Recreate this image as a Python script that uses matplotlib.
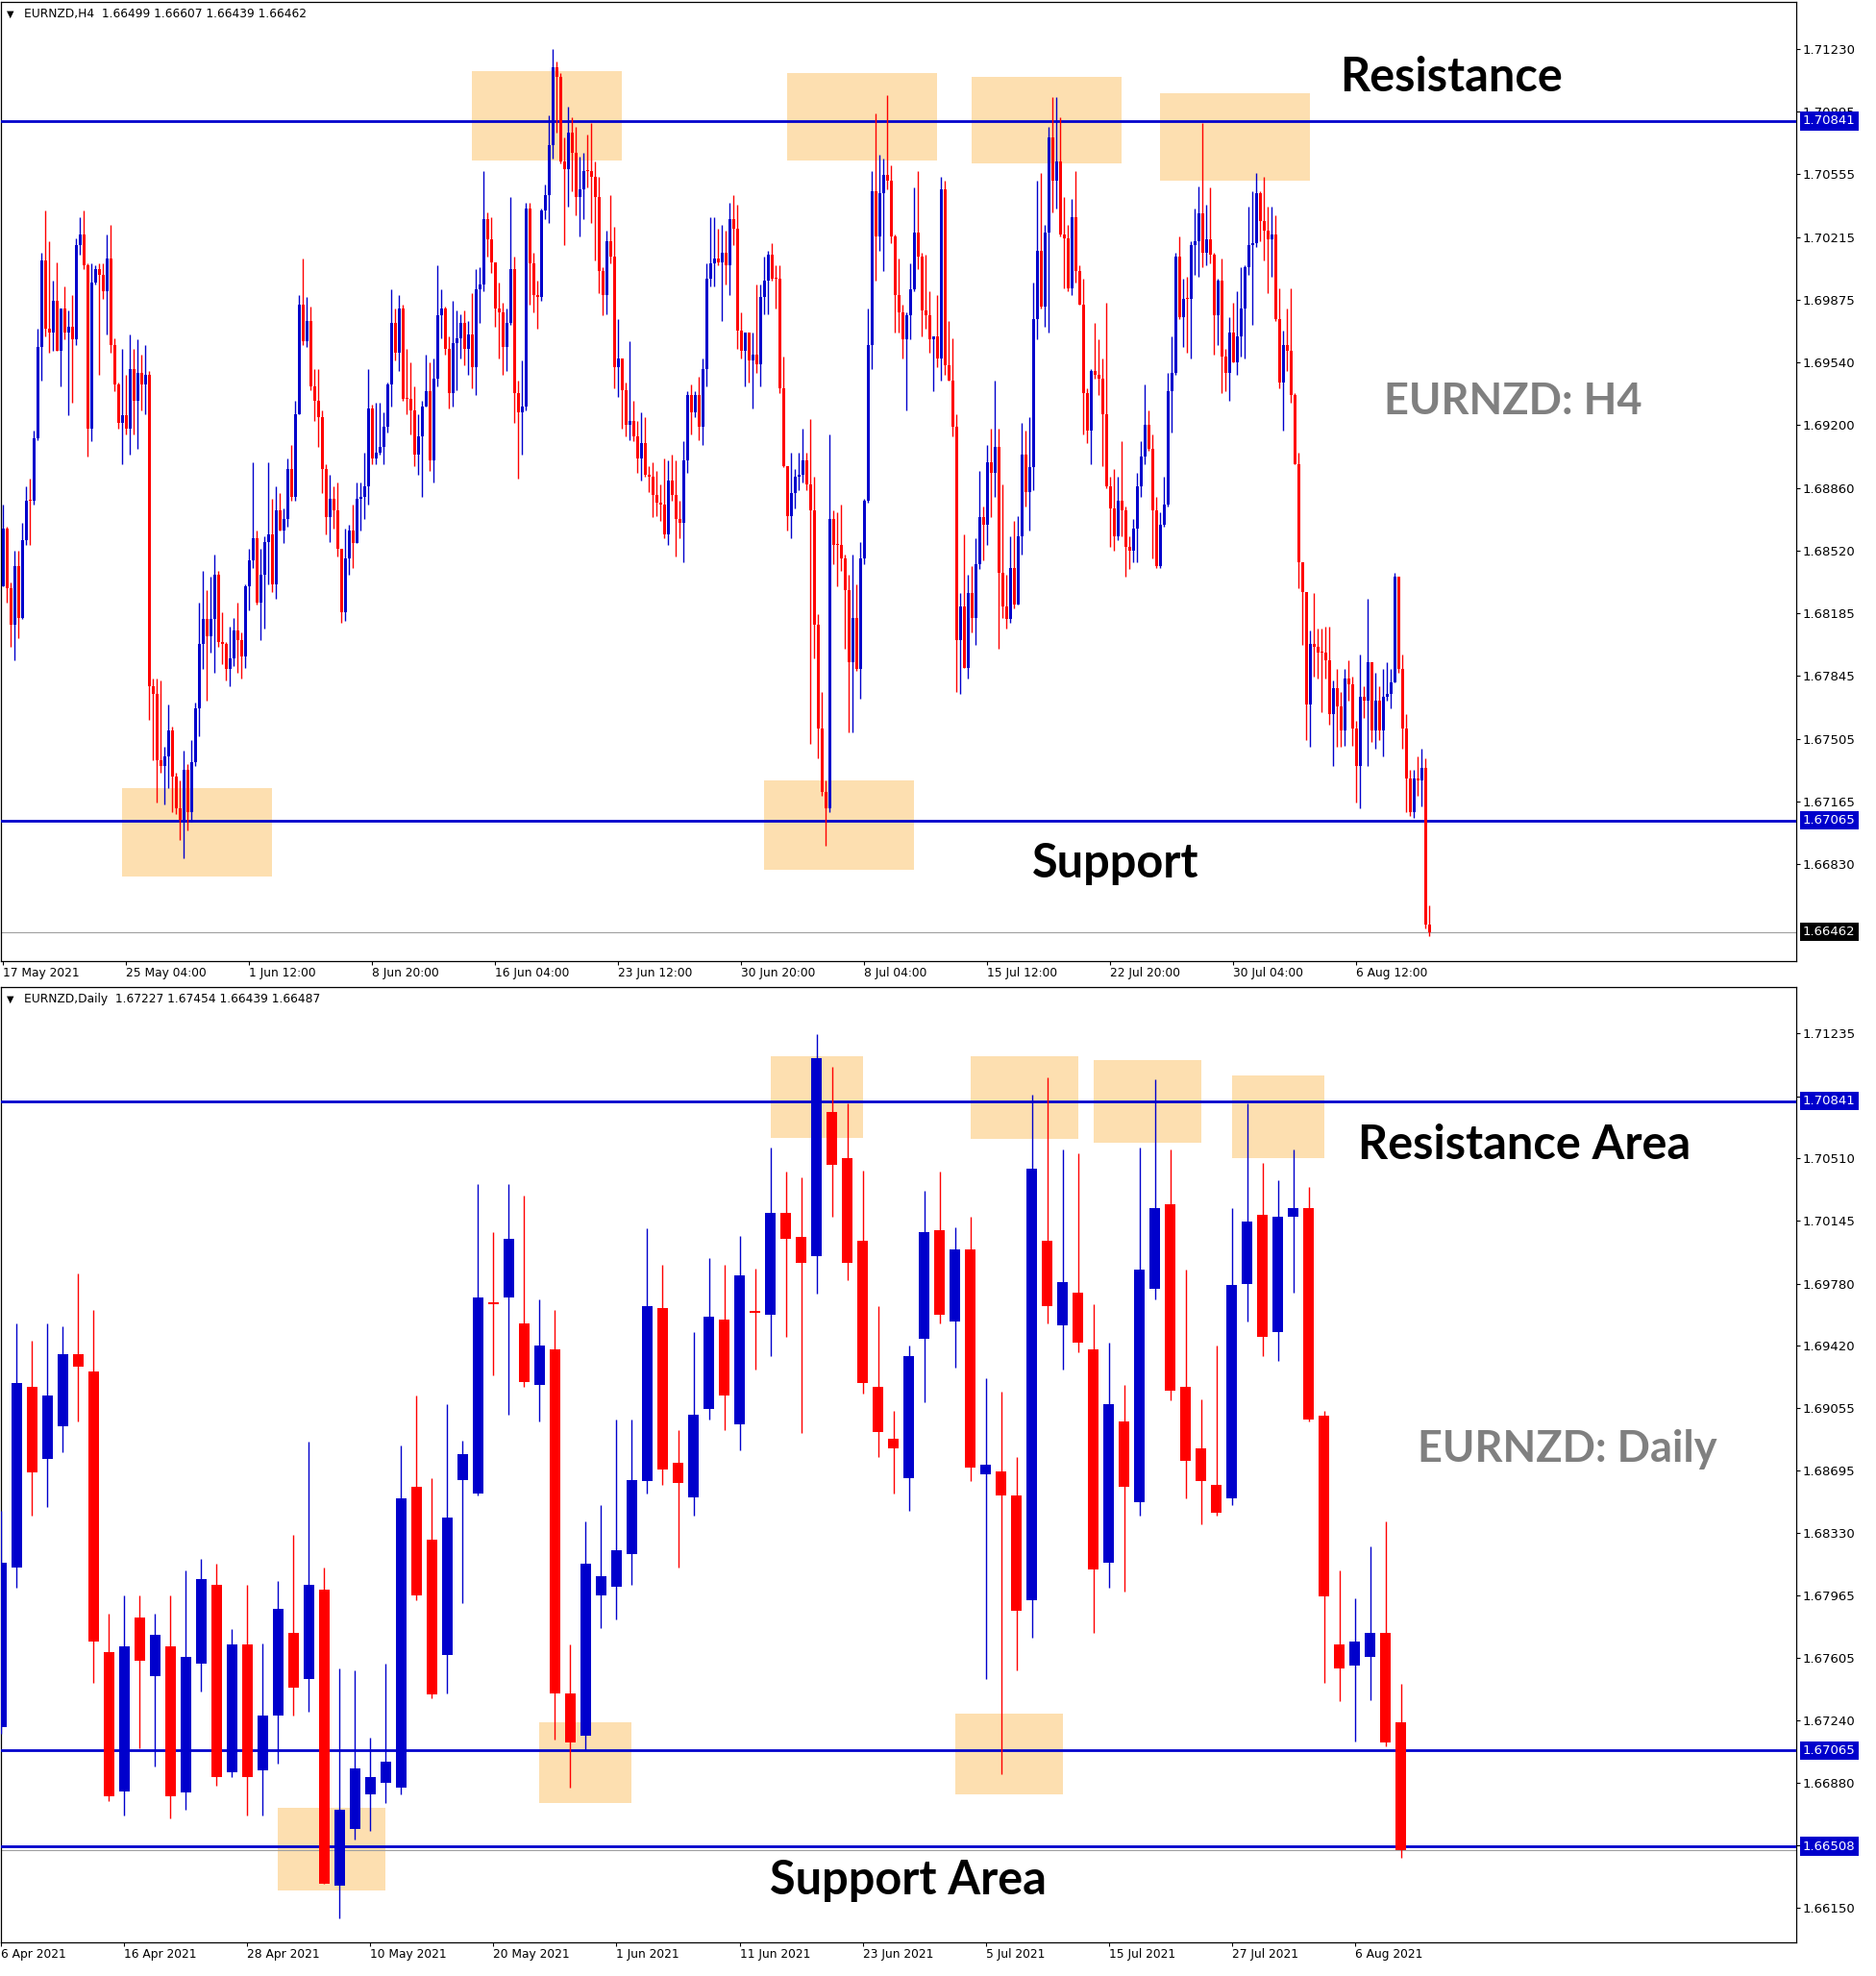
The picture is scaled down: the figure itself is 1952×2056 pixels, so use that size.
import numpy as np
import matplotlib
matplotlib.use("Agg")
import matplotlib.pyplot as plt
import matplotlib.transforms as mtransforms
from matplotlib.patches import Rectangle

# prices are kept in pips above 1.6000
BASE = 1.6
PIP = 0.0001

BULL = "#0000cc"
BEAR = "#ff0000"
LEVEL = "#0000cc"
ZONE = "#fddfb0"
W, H = 1952, 2056

# ---------------- EURNZD H4 (open = previous close) ----------------
h4_first_open = 833
h4_close = [
    864, 832, 812, 844, 816, 858, 879, 879, 913, 962,
    1009, 972, 970, 987, 960, 983, 970, 973, 966, 1017,
    1023, 1006, 918, 997, 1004, 1001, 992, 1010, 963, 942,
    921, 925, 918, 950, 933, 948, 942, 947, 779, 775,
    739, 736, 741, 755, 730, 713, 707, 734, 711, 738,
    767, 802, 815, 806, 815, 839, 803, 802, 788, 794,
    809, 804, 795, 833, 847, 859, 824, 839, 857, 861,
    834, 874, 863, 869, 896, 881, 926, 985, 965, 976,
    941, 933, 924, 896, 870, 880, 874, 853, 819, 848,
    863, 856, 880, 881, 887, 929, 902, 905, 908, 919,
    942, 975, 959, 983, 934, 934, 928, 904, 914, 930,
    938, 901, 945, 979, 983, 961, 937, 964, 967, 975,
    961, 969, 951, 993, 996, 1031, 1020, 1008, 983, 981,
    962, 975, 1004, 937, 927, 930, 1037, 1007, 990, 989,
    1036, 1044, 1071, 1113, 1108, 1062, 1058, 1078, 1067, 1043,
    1047, 1057, 1057, 1054, 1043, 1003, 990, 1019, 1011, 951,
    956, 939, 920, 922, 914, 902, 910, 893, 892, 882,
    878, 877, 861, 890, 882, 869, 867, 901, 936, 927,
    936, 919, 950, 999, 1007, 1010, 1008, 1013, 1006, 1031,
    1026, 971, 960, 970, 955, 958, 953, 989, 998, 1012,
    999, 999, 940, 898, 871, 883, 892, 893, 901, 888,
    874, 812, 756, 722, 713, 869, 855, 855, 848, 831,
    792, 816, 788, 848, 879, 963, 1046, 1022, 1045, 1055,
    1052, 1022, 990, 981, 966, 979, 993, 1024, 1011, 982,
    979, 966, 968, 956, 1047, 952, 944, 919, 804, 822,
    789, 829, 816, 845, 870, 866, 900, 894, 908, 840,
    822, 815, 843, 823, 860, 904, 884, 897, 977, 1014,
    984, 1024, 1075, 1052, 1062, 1023, 1021, 994, 1032, 1003,
    985, 937, 917, 949, 947, 945, 926, 887, 875, 860,
    879, 874, 854, 852, 864, 887, 903, 920, 907, 874,
    844, 866, 877, 938, 948, 1011, 978, 988, 988, 1017,
    1019, 1034, 1013, 1020, 1012, 979, 998, 957, 948, 970,
    954, 968, 983, 1005, 1017, 1018, 1045, 1030, 1025, 1020,
    1023, 977, 943, 963, 960, 936, 899, 846, 830, 769,
    802, 800, 797, 797, 793, 764, 778, 768, 755, 783,
    780, 756, 736, 773, 771, 792, 755, 771, 755, 773,
    775, 781, 838, 788, 756, 729, 711, 729, 728, 735,
    650, 646.2,
]
h4_high = [
    877, 865, 835, 852, 852, 867, 887, 891, 917, 972,
    1013, 1036, 1019, 998, 1008, 983, 995, 982, 990, 1021,
    1032, 1036, 1007, 1007, 1006, 1007, 1007, 1023, 1028, 967,
    943, 961, 947, 969, 961, 966, 958, 963, 949, 783,
    783, 782, 746, 769, 757, 732, 728, 744, 737, 750,
    770, 824, 841, 831, 838, 850, 841, 819, 803, 811,
    816, 824, 808, 834, 853, 900, 863, 853, 860, 900,
    880, 887, 883, 875, 902, 909, 933, 990, 1010, 989,
    984, 950, 950, 928, 899, 893, 887, 889, 853, 864,
    866, 877, 889, 889, 905, 950, 931, 932, 932, 927,
    943, 993, 983, 990, 985, 961, 954, 941, 926, 933,
    958, 954, 956, 1006, 993, 984, 968, 987, 982, 980,
    982, 976, 991, 1004, 1005, 1057, 1035, 1032, 1008, 997,
    986, 983, 1043, 1011, 944, 955, 1040, 1040, 1013, 998,
    1037, 1050, 1087, 1123, 1116, 1110, 1075, 1092, 1086, 1081,
    1065, 1067, 1077, 1083, 1062, 1054, 1005, 1025, 1044, 1027,
    977, 956, 943, 965, 933, 922, 927, 924, 898, 900,
    895, 888, 902, 901, 904, 901, 879, 911, 938, 942,
    938, 946, 956, 1007, 1032, 1032, 1026, 1028, 1025, 1040,
    1044, 1039, 981, 970, 970, 970, 996, 996, 1011, 1014,
    1018, 1006, 1006, 957, 898, 905, 896, 905, 918, 905,
    923, 892, 818, 776, 728, 915, 874, 873, 877, 850,
    839, 850, 834, 857, 880, 983, 1057, 1088, 1066, 1064,
    1098, 1060, 1023, 1010, 985, 981, 1007, 1048, 1057, 1013,
    1012, 992, 968, 990, 1054, 1052, 976, 967, 926, 829,
    861, 839, 844, 859, 895, 876, 909, 918, 944, 918,
    888, 839, 860, 868, 871, 921, 917, 924, 997, 1052,
    1056, 1028, 1081, 1097, 1097, 1086, 1043, 1028, 1042, 1057,
    1006, 999, 940, 950, 975, 966, 956, 986, 892, 896,
    892, 911, 876, 860, 869, 894, 911, 942, 928, 915,
    881, 873, 892, 948, 968, 1013, 1022, 999, 1000, 1019,
    1037, 1049, 1083, 1039, 1048, 1013, 999, 1010, 961, 978,
    986, 992, 1005, 1006, 1038, 1046, 1056, 1046, 1054, 1038,
    1038, 1033, 994, 971, 983, 994, 937, 905, 846, 830,
    809, 829, 810, 810, 811, 811, 782, 788, 776, 788,
    793, 784, 760, 796, 779, 826, 792, 786, 779, 788,
    792, 788, 840, 838, 796, 764, 734, 734, 741, 745,
    740, 660.7,
]
h4_low = [
    833, 824, 800, 793, 805, 815, 855, 855, 877, 912,
    944, 968, 959, 960, 960, 941, 966, 925, 932, 963,
    1012, 1004, 903, 911, 996, 947, 988, 969, 959, 938,
    918, 899, 915, 904, 915, 907, 928, 926, 761, 739,
    716, 732, 715, 724, 711, 710, 696, 686, 701, 706,
    736, 752, 788, 771, 797, 786, 800, 791, 782, 779,
    790, 786, 783, 789, 820, 843, 823, 804, 810, 834,
    830, 826, 863, 856, 865, 879, 879, 926, 963, 962,
    939, 922, 908, 883, 861, 857, 864, 849, 813, 814,
    839, 843, 863, 863, 869, 877, 899, 899, 904, 899,
    916, 930, 955, 949, 933, 926, 915, 898, 893, 881,
    930, 895, 889, 941, 967, 958, 929, 930, 939, 956,
    952, 947, 940, 936, 975, 992, 1011, 1002, 973, 956,
    947, 949, 974, 921, 891, 904, 928, 985, 981, 972,
    987, 1031, 1029, 1064, 1078, 1061, 1017, 1038, 1046, 1033,
    1022, 1031, 1048, 1029, 1009, 991, 979, 980, 1007, 940,
    935, 918, 914, 912, 911, 894, 890, 892, 884, 870,
    871, 868, 859, 855, 879, 849, 859, 846, 894, 915,
    924, 912, 909, 941, 995, 995, 1006, 976, 996, 990,
    1017, 961, 956, 941, 943, 929, 948, 941, 980, 980,
    998, 983, 937, 897, 863, 859, 875, 885, 889, 885,
    748, 794, 740, 720, 693, 711, 845, 833, 841, 799,
    754, 754, 787, 772, 845, 878, 950, 998, 1014, 1003,
    1047, 1018, 970, 970, 956, 928, 966, 992, 1004, 968,
    972, 959, 938, 951, 944, 947, 944, 914, 776, 775,
    789, 783, 808, 801, 842, 847, 855, 870, 881, 799,
    816, 810, 813, 821, 825, 850, 876, 863, 885, 966,
    983, 973, 970, 1035, 1037, 1022, 994, 992, 990, 997,
    985, 915, 910, 899, 945, 936, 898, 886, 854, 852,
    858, 860, 838, 842, 846, 846, 881, 899, 906, 848,
    843, 843, 865, 876, 916, 947, 977, 962, 959, 956,
    1001, 1000, 1005, 1006, 1007, 958, 963, 937, 938, 933,
    954, 947, 957, 956, 1001, 974, 1016, 1019, 1009, 991,
    1000, 976, 940, 917, 949, 932, 899, 832, 801, 750,
    746, 784, 783, 765, 783, 758, 736, 746, 746, 747,
    771, 747, 716, 713, 762, 736, 749, 745, 750, 741,
    771, 767, 781, 786, 745, 711, 709, 708, 720, 714,
    648, 643.9,
]

# ---------------- EURNZD Daily ----------------
daily_open = [
    720, 813, 918, 876, 895, 937, 927, 764, 683, 784,
    750, 767, 682, 757, 803, 694, 768, 695, 727, 775,
    748, 800, 628, 661, 681, 688, 685, 860, 829, 762,
    864, 856, 967, 970, 955, 919, 940, 740, 715, 797,
    802, 821, 863, 964, 874, 854, 905, 957, 896, 962,
    960, 1019, 1005, 994, 1078, 1051, 1003, 918, 888, 865,
    946, 1009, 956, 998, 867, 869, 855, 794, 1003, 954,
    973, 940, 816, 898, 851, 975, 1024, 918, 882, 861,
    853, 978, 1018, 950, 1017, 1022, 901, 768, 756, 761,
    775, 722.7,
]
daily_high = [
    846, 955, 945, 955, 953, 984, 963, 786, 797, 797,
    786, 797, 811, 818, 815, 777, 803, 769, 805, 832,
    886, 813, 754, 753, 714, 757, 884, 913, 865, 908,
    887, 1036, 1008, 1036, 1029, 969, 963, 768, 840, 849,
    899, 899, 1010, 989, 893, 950, 993, 989, 1006, 987,
    1057, 1043, 1040, 1123, 1104, 1083, 1044, 965, 904, 942,
    1032, 1043, 1011, 1017, 923, 915, 877, 1088, 1098, 1056,
    1054, 966, 944, 919, 1057, 1097, 1056, 986, 911, 942,
    1022, 1083, 1048, 1038, 1056, 1034, 904, 811, 795, 825,
    840, 745.4,
]
daily_low = [
    716, 801, 843, 848, 880, 898, 746, 677, 669, 708,
    697, 667, 672, 741, 686, 691, 669, 669, 699, 727,
    729, 629, 609, 655, 660, 676, 681, 794, 737, 740,
    792, 855, 925, 902, 918, 898, 713, 685, 707, 778,
    783, 803, 856, 861, 813, 843, 899, 893, 881, 928,
    936, 947, 891, 972, 1017, 980, 914, 877, 856, 846,
    909, 955, 929, 863, 748, 693, 753, 772, 955, 928,
    938, 775, 801, 799, 843, 969, 910, 853, 838, 843,
    849, 956, 936, 933, 973, 898, 746, 735, 712, 736,
    709, 643.9,
]
daily_close = [
    816, 920, 868, 913, 937, 930, 770, 680, 767, 759,
    774, 680, 761, 806, 691, 768, 691, 727, 789, 743,
    803, 629, 672, 696, 691, 700, 853, 797, 739, 842,
    879, 970, 966, 1004, 921, 942, 740, 711, 815, 808,
    823, 864, 965, 870, 862, 902, 959, 913, 983, 961,
    1019, 1004, 990, 1109, 1047, 990, 920, 892, 882, 936,
    1008, 960, 998, 871, 873, 855, 788, 1045, 965, 979,
    944, 812, 908, 860, 986, 1022, 916, 875, 863, 845,
    977, 1014, 947, 1017, 1022, 899, 796, 754, 770, 775,
    711, 648.7,
]

# axis texts
h4_price_ticks = [1.71230, 1.70895, 1.70555, 1.70215, 1.69875, 1.69540, 1.69200,
                  1.68860, 1.68520, 1.68185, 1.67845, 1.67505, 1.67165, 1.66830]
daily_price_ticks = [1.71235, 1.70870, 1.70510, 1.70145, 1.69780, 1.69420, 1.69055, 1.68695,
                     1.68330, 1.67965, 1.67605, 1.67240, 1.66880, 1.66515, 1.66150]
h4_time_labels = ["17 May 2021", "25 May 04:00", "1 Jun 12:00", "8 Jun 20:00", "16 Jun 04:00",
                  "23 Jun 12:00", "30 Jun 20:00", "8 Jul 04:00", "15 Jul 12:00", "22 Jul 20:00",
                  "30 Jul 04:00", "6 Aug 12:00"]
daily_time_labels = ["6 Apr 2021", "16 Apr 2021", "28 Apr 2021", "10 May 2021", "20 May 2021",
                     "1 Jun 2021", "11 Jun 2021", "23 Jun 2021", "5 Jul 2021", "15 Jul 2021",
                     "27 Jul 2021", "6 Aug 2021"]
h4_label_step = 32
daily_label_step = 8

h4_levels = [1.70841, 1.67065]
h4_current = 1.66462
daily_levels = [1.70841, 1.67065, 1.66508]
daily_current = 1.66487

# highlighted zones: (first bar, last bar, low pips, high pips)
h4_zones = [(30.9, 69.9, 676, 724), (121.9, 160.9, 1063, 1111), (197.9, 236.9, 680, 728),
            (203.9, 242.9, 1063, 1110), (251.9, 290.9, 1061, 1108), (300.9, 339.9, 1052, 1099)]
daily_zones = [(18.0, 25.0, 625, 673), (35.0, 41.0, 676, 723), (50.0, 56.0, 1063, 1110),
               (62.0, 69.0, 681, 728), (63.0, 70.0, 1062, 1110), (71.0, 78.0, 1060, 1108),
               (80.0, 86.0, 1051, 1099)]

PRICE_FS = 9.5
TIME_FS = 8.8


def to_price(p):
    return BASE + np.asarray(p, dtype=float) * PIP


def draw_candles(ax, o, h, l, c, width, min_body):
    o, h, l, c = to_price(o), to_price(h), to_price(l), to_price(c)
    h = np.maximum(h, np.maximum(o, c))
    l = np.minimum(l, np.minimum(o, c))
    x = np.arange(len(c))
    colors = np.where(c > o, BULL, BEAR)
    ax.vlines(x, l, h, colors=colors, linewidth=1.0, zorder=4)
    bottom = np.minimum(o, c)
    height = np.maximum(np.abs(c - o), min_body)
    ax.bar(x, height, width, bottom, color=colors, linewidth=0, zorder=5)


def setup_axes(ax, xlim, ylim, price_ticks, step, time_labels):
    ax.set_xlim(*xlim)
    ax.set_ylim(*ylim)
    ax.yaxis.tick_right()
    ax.set_yticks(price_ticks)
    ax.set_yticklabels([f"{t:.5f}" for t in price_ticks])
    ax.tick_params(axis="y", length=3, width=0.8, pad=2, labelsize=PRICE_FS)
    ax.set_xticks(np.arange(len(time_labels)) * step)
    ax.set_xticklabels(time_labels, ha="left")
    ax.tick_params(axis="x", length=3, width=0.8, pad=1.5, labelsize=TIME_FS)
    for s in ax.spines.values():
        s.set_linewidth(0.9)


def price_tag(ax, value, color):
    trans = mtransforms.blended_transform_factory(ax.transAxes, ax.transData)
    ax.text(1.0 + 7 / 1868, value, f"{value:.5f}", transform=trans, va="center", ha="left",
            color="white", fontsize=PRICE_FS, zorder=10, clip_on=False,
            bbox=dict(boxstyle="square,pad=0.24", fc=color, ec="none"))


def fig_text(x, y, s, color="black", size=35):
    fig.text(x / W, 1 - y / H, s, fontsize=size, fontweight="bold", family="Lato",
             color=color, ha="left", va="baseline")


fig = plt.figure(figsize=(W / 100, H / 100), dpi=100)
ax1 = fig.add_axes([1 / W, 1 - 1000 / H, 1868 / W, 998 / H])
ax2 = fig.add_axes([1 / W, 1 - 2021 / H, 1868 / W, 994 / H])

# H4 panel
for x0, x1, lo, hi in h4_zones:
    ax1.add_patch(Rectangle((x0, to_price(lo)), x1 - x0, (hi - lo) * PIP,
                            fc=ZONE, ec="none", zorder=1))
for lv in h4_levels:
    ax1.axhline(lv, color=LEVEL, lw=2.0, zorder=3)
    price_tag(ax1, lv, LEVEL)
ax1.axhline(h4_current, color="#a0a0a0", lw=0.8, zorder=2)
price_tag(ax1, h4_current, "black")
h4_open = [h4_first_open] + h4_close[:-1]
draw_candles(ax1, h4_open, h4_high, h4_low, h4_close, 0.62, 0.00005)
setup_axes(ax1, (-0.6, 466.4), (1.66305, 1.71484), h4_price_ticks, h4_label_step, h4_time_labels)
ax1.text(6 / 1868, 0.987, "\u25bc", transform=ax1.transAxes, fontsize=7, va="center")
ax1.text(24 / 1868, 0.987, "EURNZD,H4  1.66499 1.66607 1.66439 1.66462",
         transform=ax1.transAxes, fontsize=TIME_FS, va="center")

# Daily panel
for x0, x1, lo, hi in daily_zones:
    ax2.add_patch(Rectangle((x0, to_price(lo)), x1 - x0, (hi - lo) * PIP,
                            fc=ZONE, ec="none", zorder=1))
ax2.axhline(daily_current, color="#a0a0a0", lw=0.8, zorder=2)
for lv in daily_levels:
    ax2.axhline(lv, color=LEVEL, lw=2.0, zorder=3)
    price_tag(ax2, lv, LEVEL)
draw_candles(ax2, daily_open, daily_high, daily_low, daily_close, 0.69, 0.00006)
setup_axes(ax2, (-0.02, 116.7), (1.65950, 1.71505), daily_price_ticks, daily_label_step,
           daily_time_labels)
ax2.text(6 / 1868, 0.987, "\u25bc", transform=ax2.transAxes, fontsize=7, va="center")
ax2.text(24 / 1868, 0.987, "EURNZD,Daily  1.67227 1.67454 1.66439 1.66487",
         transform=ax2.transAxes, fontsize=TIME_FS, va="center")

# annotations
fig_text(1394, 95, "Resistance")
fig_text(1440, 431, "EURNZD: H4", color="#808080", size=32.5)
fig_text(1074, 913, "Support")
fig_text(1413, 1206, "Resistance Area")
fig_text(1475, 1521, "EURNZD: Daily", color="#808080", size=32.5)
fig_text(801, 1971, "Support Area")

fig.savefig("out.png", dpi=100)
